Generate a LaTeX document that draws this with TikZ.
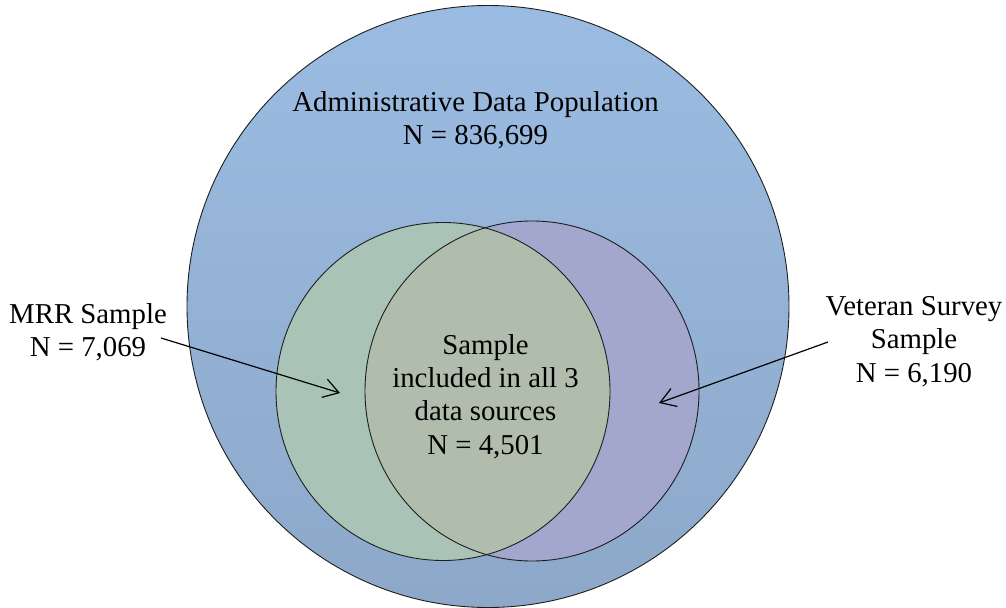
\documentclass[tikz,border=0pt]{standalone}
\usepackage{fontspec}
\setmainfont{Liberation Serif}
\usetikzlibrary{arrows.meta}
\definecolor{popTop}{RGB}{155,188,226}
\definecolor{popBot}{RGB}{141,168,201}
\definecolor{mrrFill}{RGB}{169,196,183}
\definecolor{vetFill}{RGB}{163,166,205}
\definecolor{bothFill}{RGB}{176,188,172}
\definecolor{edge}{RGB}{30,30,30}
\tikzset{
  lbl/.style={align=center, inner sep=0pt, font=\fontsize{28.8bp}{33.3bp}\selectfont, text=black},
  setline/.style={draw=edge, line width=0.9bp},
  pointer/.style={draw=black, line width=1.2bp, -{Straight Barb[length=15bp,width=19bp,line width=1.2bp]}}
}
\begin{document}
\begin{tikzpicture}[x=1bp,y=-1bp]
\useasboundingbox (0,0) rectangle (1006,608);
% population circle
\coordinate (popc) at (488,306.5);
\coordinate (mrrc) at (443,391.5);
\coordinate (vetc) at (532,391);
\shade[top color=popTop, bottom color=popBot] (popc) circle[radius=301];
\draw[setline] (popc) circle[radius=301];
% sample circles
\fill[mrrFill] (mrrc) ellipse[x radius=167, y radius=169];
\fill[vetFill] (vetc) ellipse[x radius=167, y radius=170];
\begin{scope}
  \clip (mrrc) ellipse[x radius=167, y radius=169];
  \fill[bothFill] (vetc) ellipse[x radius=167, y radius=170];
\end{scope}
\draw[setline] (mrrc) ellipse[x radius=167, y radius=169];
\draw[setline] (vetc) ellipse[x radius=167, y radius=170];
% labels
\node[lbl] (poplbl) at (475.5,120.5) {Administrative Data Population\\N = 836,699};
\node[lbl] (bothlbl) at (485.5,396.5) {Sample\\included in all 3\\data sources\\N = 4,501};
\node[lbl] (mrrlbl) at (88,332.5) {MRR Sample\\N = 7,069};
\node[lbl] (vetlbl) at (914,341.5) {Veteran Survey\\Sample\\N = 6,190};
% pointers
\coordinate (mrrfrom) at (161,338);
\coordinate (mrrtip) at (340,393);
\coordinate (vetfrom) at (828,342);
\coordinate (vettip) at (659,403);
\draw[pointer] (mrrfrom) -- (mrrtip);
\draw[pointer] (vetfrom) -- (vettip);
\end{tikzpicture}
\end{document}
